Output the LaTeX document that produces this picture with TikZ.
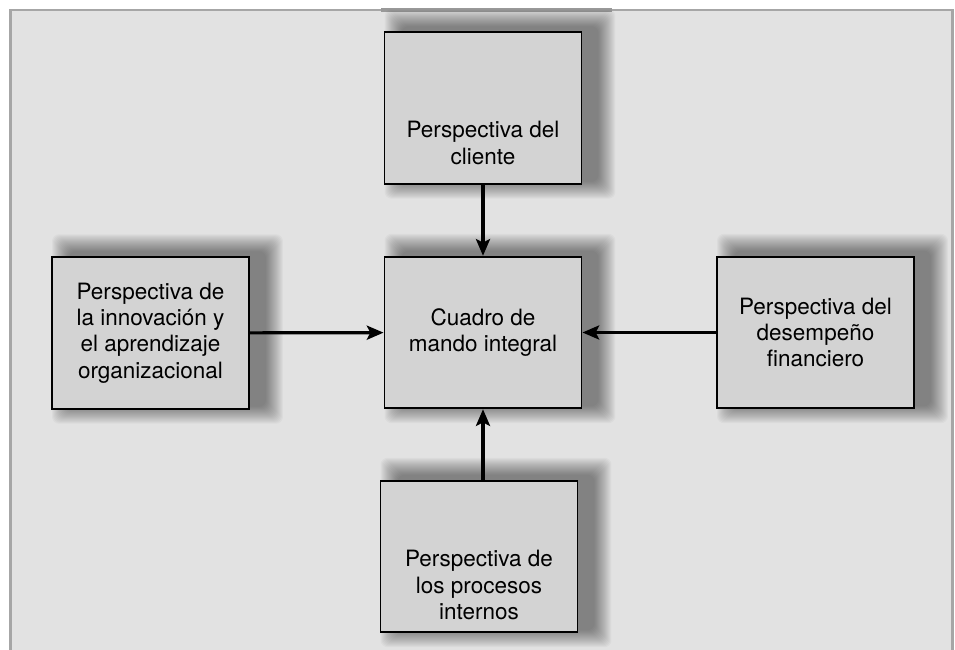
\documentclass[tikz,border=0pt]{standalone}
\usepackage{fontspec}
\setmainfont{TeX Gyre Heros}
\usetikzlibrary{arrows.meta,positioning,backgrounds}
\definecolor{panel}{HTML}{E2E2E2}
\definecolor{boxfill}{HTML}{D3D3D3}
\definecolor{rim}{HTML}{A6A6A6}
\definecolor{rimdark}{HTML}{999999}

\begin{document}
\begin{tikzpicture}[>={Stealth[length=9.5pt,width=8pt,inset=2pt]},
 font=\fontsize{12.8}{15}\selectfont,
 persp/.style={draw,line width=1.1pt,fill=boxfill,minimum width=3.94cm,minimum height=3.03cm,
   inner sep=0pt,align=center},
 halo/.style={fill=black,opacity=0.028,rounded corners=0.14cm},
 link/.style={->,line width=1.8pt}]
\useasboundingbox (0,0) rectangle (19.1,12.98);
% boxes
\node[persp,label={[align=center,yshift=-0.7cm]center:Perspectiva del\\cliente}] (cli) at (9.66,10.82) {};
\node[persp] (cmi) at (9.66,6.33) {Cuadro de\\mando integral};
\node[persp] (inn) at (3.01,6.32) {Perspectiva de\\la innovación y\\el aprendizaje\\organizacional};
\node[persp] (fin) at (16.31,6.33) {Perspectiva del\\desempeño\\financiero};
\node[persp,label={[align=center,yshift=-0.57cm]center:Perspectiva de\\los procesos\\internos}] (pro) at (9.58,1.85) {};
% links
\draw[link] (cli) -- (cmi);
\draw[link] (inn) -- (cmi);
\draw[link] (fin) -- (cmi);
\draw[link] (pro.north -| cmi.south) -- (cmi.south);
% panel and soft shadows
\begin{scope}[on background layer]
\draw[rim,line width=1.7pt,fill=panel] (0.21,-0.5) -- (0.21,12.78) -- (19.05,12.78) -- (19.05,-0.5);
\draw[rimdark,line width=2pt] (7.62,12.78) -- (12.24,12.78);
\foreach \b in {cli,cmi,inn,fin,pro}
  \foreach \d in {0.36,0.34,...,0.0}
    \fill[halo] ([xshift=0.3cm-\d cm+0.08cm,yshift=0.08cm-\d cm]\b.south west)
      rectangle ([xshift=0.3cm+\d cm,yshift=0.08cm+\d cm]\b.north east);
\end{scope}
\end{tikzpicture}
\end{document}
